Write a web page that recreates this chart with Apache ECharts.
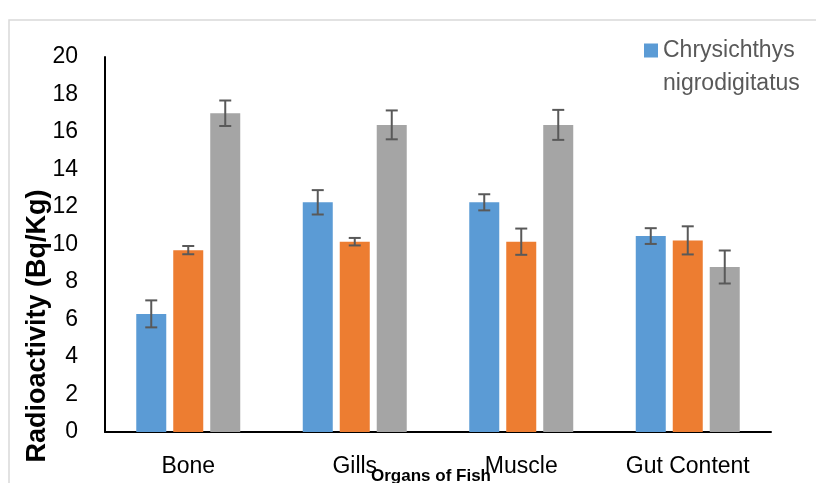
<!DOCTYPE html>
<html>
<head>
<meta charset="utf-8">
<script src="https://cdn.jsdelivr.net/npm/echarts@6/dist/echarts.min.js"></script>
<style>
html,body{margin:0;padding:0;background:#fff;overflow:hidden;}
#chart{width:816px;height:483px;}
</style>
</head>
<body>
<div id="chart"></div>
<script>
const categories = ['Bone', 'Gills', 'Muscle', 'Gut Content'];
const seriesNames = ['Chrysichthys nigrodigitatus', 'Series 2', 'Series 3'];
const blueValues = [6.3, 12.25, 12.25, 10.45];
const orangeValues = [9.7, 10.15, 10.15, 10.22];
const grayValues = [17.0, 16.38, 16.38, 8.8];
const blueErrors = [0.72, 0.65, 0.43, 0.42];
const orangeErrors = [0.22, 0.2, 0.7, 0.75];
const grayErrors = [0.68, 0.77, 0.8, 0.88];
const yTicks = [0, 2, 4, 6, 8, 10, 12, 14, 16, 18, 20];

const colors = ['#5B9BD5', '#ED7D31', '#A5A5A5'];
const valueSets = [blueValues, orangeValues, grayValues];
const errorSets = [blueErrors, orangeErrors, grayErrors];
const BAR_W = 30, GAP = 7;
const FONT = '"Liberation Sans", Arial, sans-serif';

const chart = echarts.init(document.getElementById('chart'), null, { width: 816, height: 483 });

const barSeries = valueSets.map((vals, i) => ({
  name: seriesNames[i],
  type: 'bar',
  data: vals,
  barWidth: BAR_W,
  barGap: (GAP / BAR_W * 100).toFixed(1) + '%',
  itemStyle: { color: colors[i] },
  z: 2
}));

const errSeries = valueSets.map((vals, i) => ({
  name: seriesNames[i] + ' error',
  type: 'custom',
  data: vals.map((v, k) => [k, v - errorSets[i][k], v + errorSets[i][k]]),
  z: 5,
  silent: true,
  renderItem: function (params, api) {
    const offset = (i - 1) * (BAR_W + GAP);
    const x = api.coord([api.value(0), 0])[0] + offset;
    const yLo = api.coord([api.value(0), api.value(1)])[1];
    const yHi = api.coord([api.value(0), api.value(2)])[1];
    const hw = 6;
    const style = { stroke: '#595959', lineWidth: 2 };
    return {
      type: 'group',
      children: [
        { type: 'line', shape: { x1: x, y1: yLo, x2: x, y2: yHi }, style: style },
        { type: 'line', shape: { x1: x - hw, y1: yHi, x2: x + hw, y2: yHi }, style: style },
        { type: 'line', shape: { x1: x - hw, y1: yLo, x2: x + hw, y2: yLo }, style: style }
      ]
    };
  }
}));

chart.setOption({
  animation: false,
  backgroundColor: '#fff',
  textStyle: { fontFamily: FONT },
  grid: { left: 105, right: 45, top: 57, bottom: 51, containLabel: false },
  legend: {
    data: [seriesNames[0]],
    left: 639,
    top: -4,
    itemWidth: 14,
    itemHeight: 14,
    itemGap: 6,
    icon: 'rect',
    formatter: function () { return '\nChrysichthys\nnigrodigitatus'; },
    textStyle: { fontSize: 23, color: '#595959', lineHeight: 33, fontFamily: FONT }
  },
  xAxis: {
    type: 'category',
    data: categories,
    axisLine: { lineStyle: { color: '#000', width: 2 } },
    axisTick: { show: false },
    axisLabel: { fontSize: 23, color: '#000', margin: 23, fontFamily: FONT }
  },
  yAxis: {
    type: 'value',
    min: yTicks[0],
    max: yTicks[yTicks.length - 1],
    interval: yTicks[1] - yTicks[0],
    axisLine: { show: true, lineStyle: { color: '#000', width: 2 } },
    axisTick: { show: false },
    splitLine: { show: false },
    axisLabel: { fontSize: 23, color: '#000', margin: 27, fontFamily: FONT }
  },
  graphic: [
    {
      type: 'rect',
      shape: { x: 9, y: 20, width: 900, height: 600 },
      style: { fill: 'none', stroke: '#D9D9D9', lineWidth: 1.5 },
      z: -10,
      silent: true
    },
    {
      type: 'text',
      x: 38,
      y: 326,
      rotation: Math.PI / 2,
      style: {
        text: 'Radioactivity (Bq/Kg)',
        font: 'bold 27px ' + FONT,
        fill: '#000',
        align: 'center',
        verticalAlign: 'middle'
      },
      z: 10
    },
    {
      type: 'text',
      x: 431,
      y: 476,
      style: {
        text: 'Organs of Fish',
        font: 'bold 17px ' + FONT,
        fill: '#000',
        align: 'center',
        verticalAlign: 'middle'
      },
      z: 10
    }
  ],
  series: barSeries.concat(errSeries)
});
</script>
</body>
</html>
